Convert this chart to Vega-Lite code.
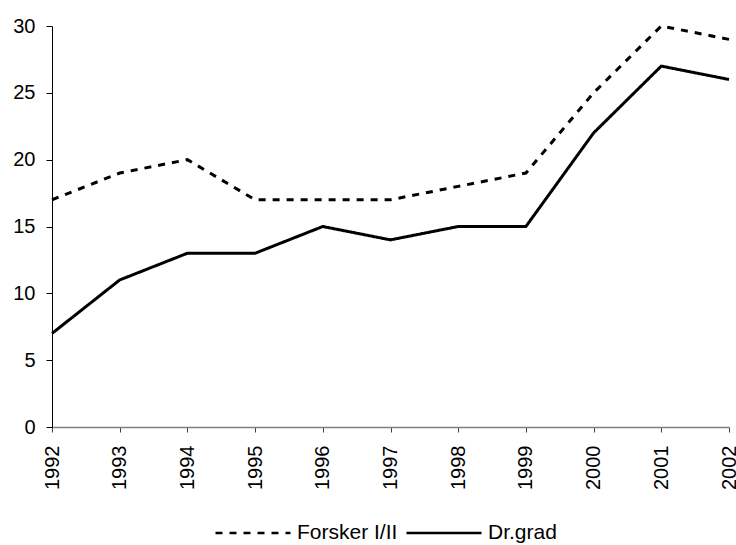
{
  "$schema": "https://vega.github.io/schema/vega-lite/v6.json",
  "width": 677,
  "height": 401,
  "autosize": {"type": "none"},
  "padding": {"left": 52, "top": 26, "right": 7, "bottom": 118},
  "background": "white",
  "config": {
    "view": {"stroke": null},
    "font": "Liberation Sans",
    "axis": {"grid": false, "labelFont": "Liberation Sans", "labelFontSize": 20, "labelColor": "black", "title": null}
  },
  "data": {
    "values": [
      {"year": "1992", "series": "Forsker I/II", "value": 17},
      {"year": "1993", "series": "Forsker I/II", "value": 19},
      {"year": "1994", "series": "Forsker I/II", "value": 20},
      {"year": "1995", "series": "Forsker I/II", "value": 17},
      {"year": "1996", "series": "Forsker I/II", "value": 17},
      {"year": "1997", "series": "Forsker I/II", "value": 17},
      {"year": "1998", "series": "Forsker I/II", "value": 18},
      {"year": "1999", "series": "Forsker I/II", "value": 19},
      {"year": "2000", "series": "Forsker I/II", "value": 25},
      {"year": "2001", "series": "Forsker I/II", "value": 30},
      {"year": "2002", "series": "Forsker I/II", "value": 29},
      {"year": "1992", "series": "Dr.grad", "value": 7},
      {"year": "1993", "series": "Dr.grad", "value": 11},
      {"year": "1994", "series": "Dr.grad", "value": 13},
      {"year": "1995", "series": "Dr.grad", "value": 13},
      {"year": "1996", "series": "Dr.grad", "value": 15},
      {"year": "1997", "series": "Dr.grad", "value": 14},
      {"year": "1998", "series": "Dr.grad", "value": 15},
      {"year": "1999", "series": "Dr.grad", "value": 15},
      {"year": "2000", "series": "Dr.grad", "value": 22},
      {"year": "2001", "series": "Dr.grad", "value": 27},
      {"year": "2002", "series": "Dr.grad", "value": 26}
    ]
  },
  "mark": {"type": "line", "color": "black", "strokeWidth": 3},
  "encoding": {
    "x": {
      "field": "year",
      "type": "ordinal",
      "scale": {"type": "point", "padding": 0},
      "axis": {
        "labelAngle": -90,
        "labelAlign": "right",
        "labelBaseline": "middle",
        "labelPadding": 13,
        "tickSize": 5,
        "tickColor": "#404040",
        "domainColor": "#808080",
        "domainWidth": 1.5
      }
    },
    "y": {
      "field": "value",
      "type": "quantitative",
      "scale": {"domain": [0, 30], "nice": false},
      "axis": {
        "values": [0, 5, 10, 15, 20, 25, 30],
        "tickSize": 6,
        "labelPadding": 11,
        "tickColor": "black",
        "domainColor": "black",
        "domainWidth": 1
      }
    },
    "strokeDash": {
      "field": "series",
      "type": "nominal",
      "scale": {"domain": ["Forsker I/II", "Dr.grad"], "range": [[7, 7], [1, 0]]},
      "legend": {
        "title": null,
        "orient": "none",
        "direction": "horizontal",
        "legendX": 162,
        "legendY": 468,
        "symbolType": "stroke",
        "symbolSize": 5625,
        "symbolStrokeWidth": 2.5,
        "symbolStrokeColor": "black",
        "labelFontSize": 21,
        "labelFont": "Liberation Sans",
        "labelColor": "black",
        "labelOffset": 5,
        "columnPadding": 3
      }
    }
  }
}
